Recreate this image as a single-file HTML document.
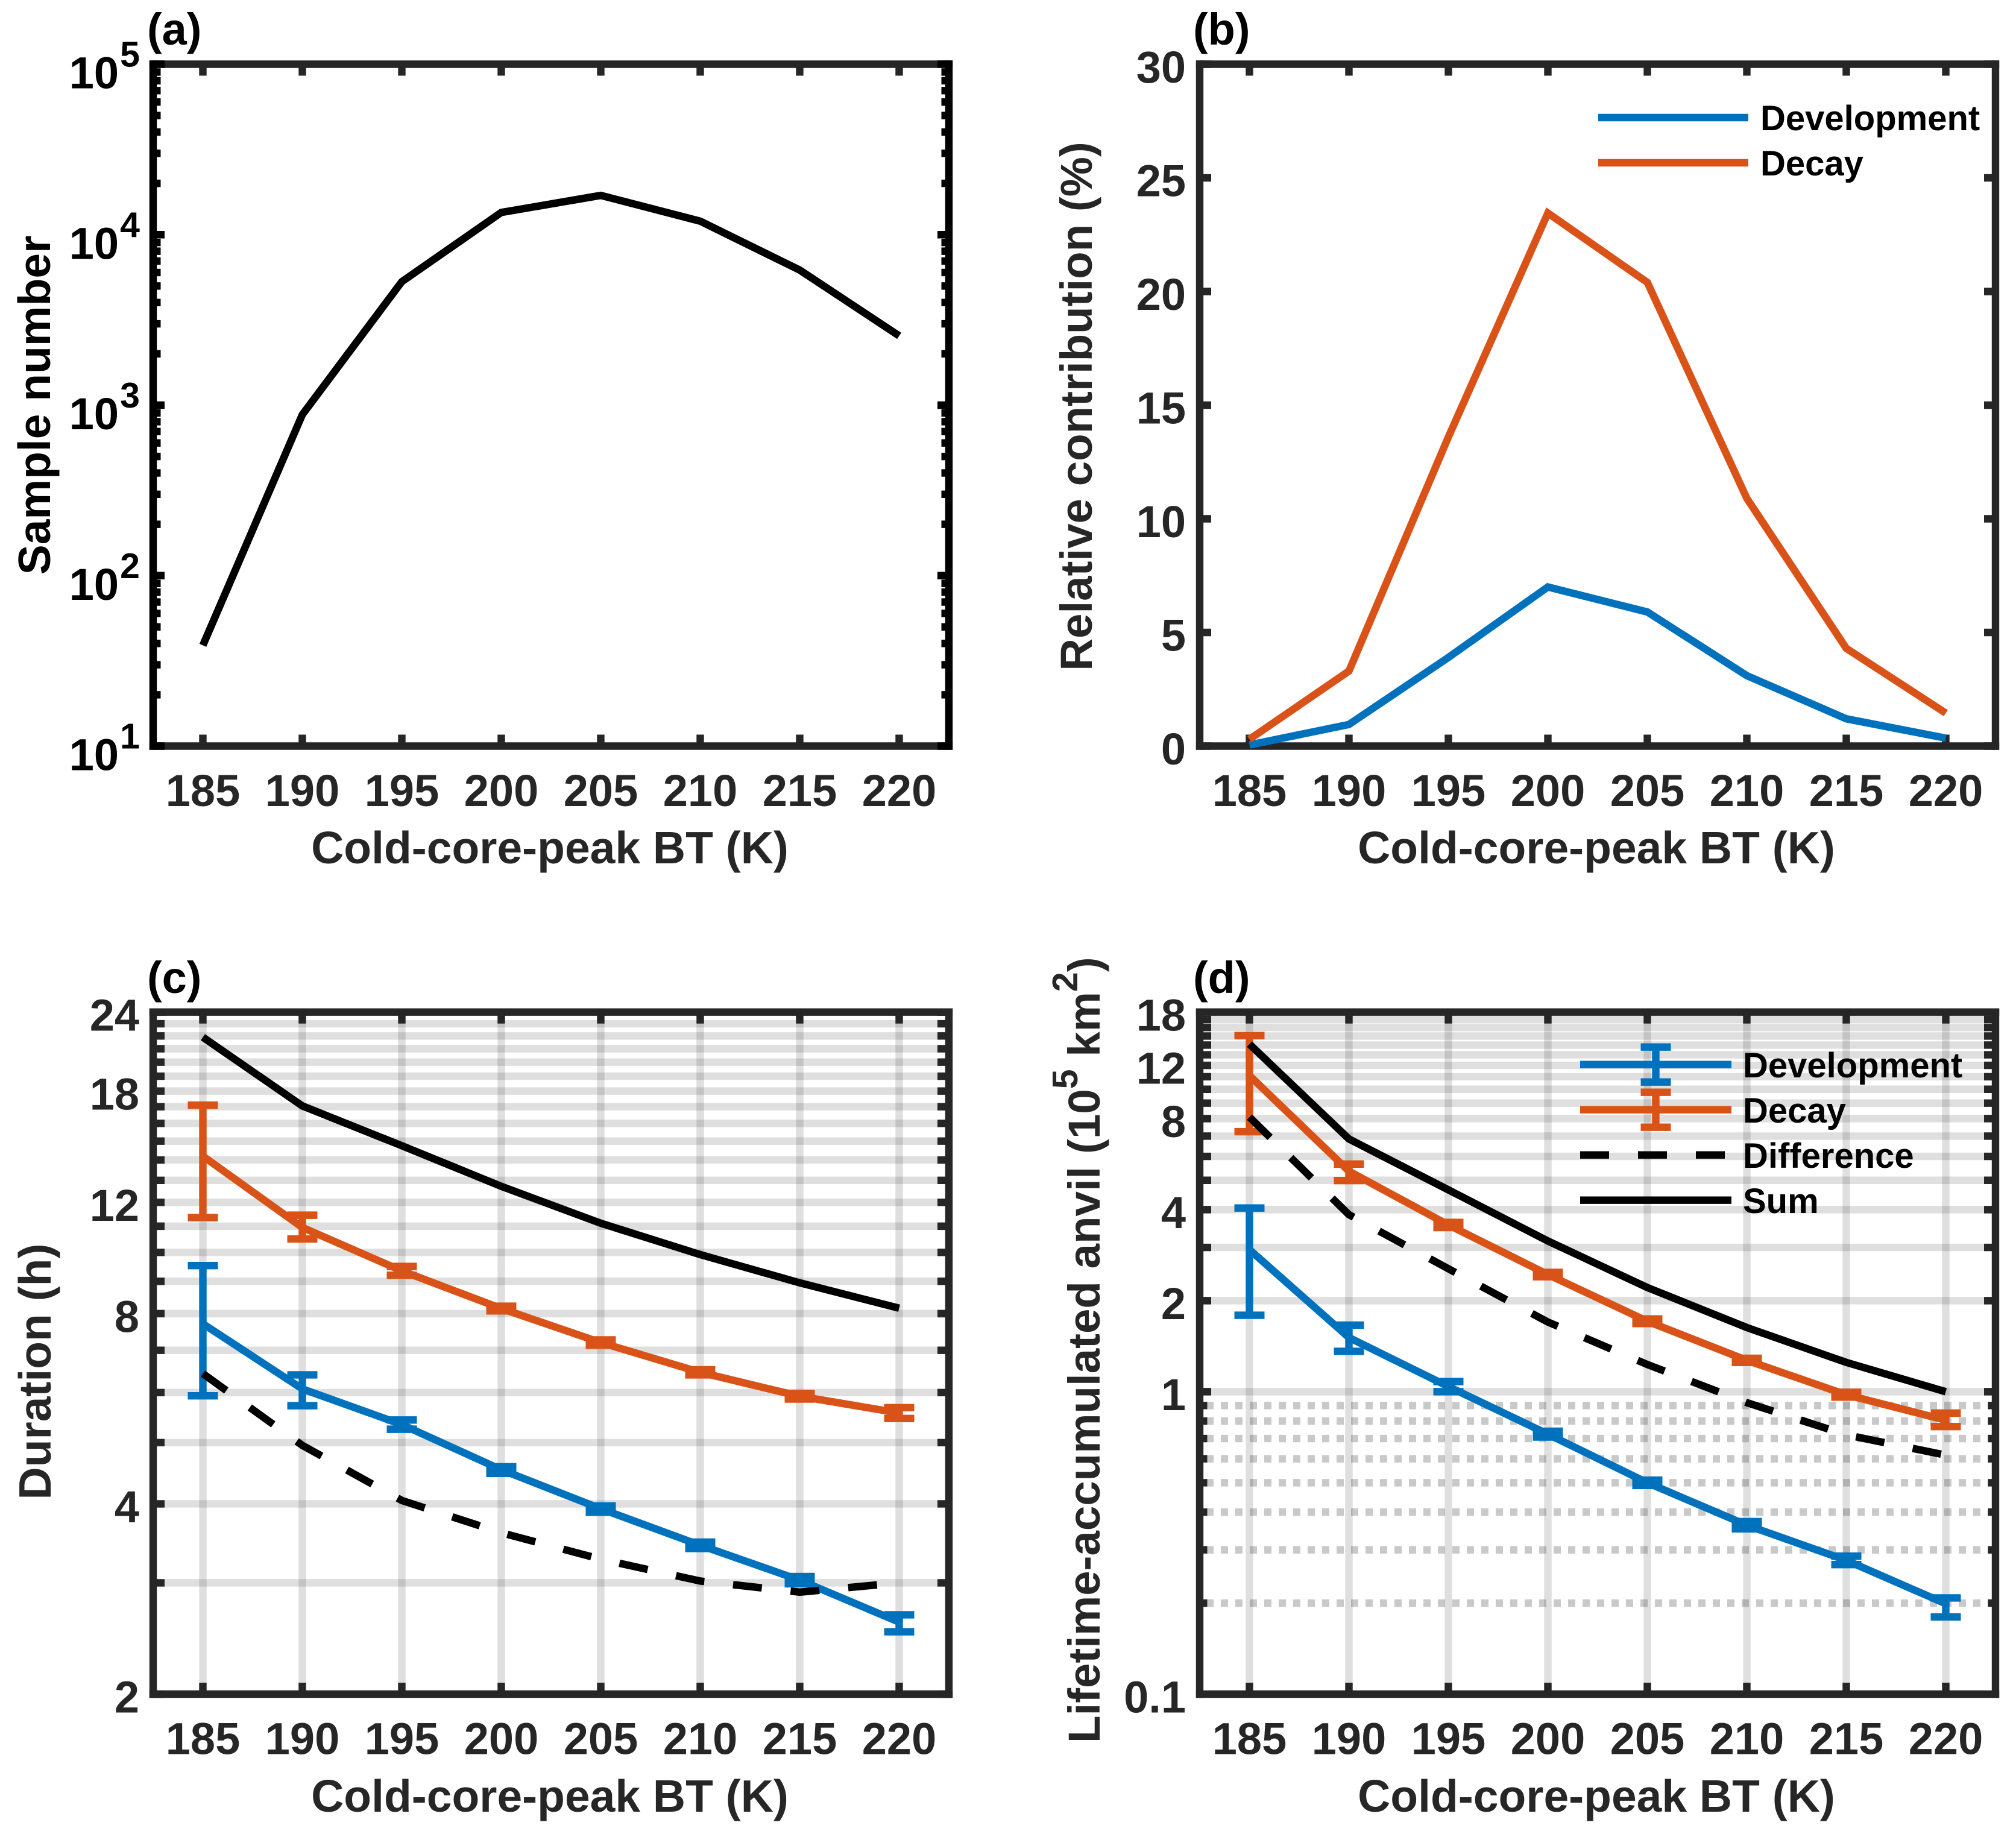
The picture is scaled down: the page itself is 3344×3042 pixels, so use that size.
<!DOCTYPE html>
<html lang="en">
<head>
<meta charset="utf-8">
<title>Cold-core-peak BT panels</title>
<style>
  html, body { margin: 0; padding: 0; background: #ffffff; }
  svg { display: block; }
  text { font-family: "Liberation Sans", Arial, sans-serif; font-weight: bold; font-size: 74px; fill: #262626; }
  .ttl { font-size: 75px; }
  .ttl-long { font-size: 74.5px; }
  .blk { fill: #000000; }
  .leg { font-size: 58px; fill: #000000; }
</style>
</head>
<body>
<svg id="figure" xmlns="http://www.w3.org/2000/svg" width="3344" height="3042" viewBox="0 0 3344 3042">
  <rect x="0" y="0" width="3344" height="3042" fill="#ffffff"/>

  <g id="panel-a"></g>
  <g id="panel-b"></g>
  <g id="panel-c"></g>
  <g id="panel-d"></g>

  <text class="blk" x="244" y="74">(a)</text>
  <text class="blk" x="1979" y="74">(b)</text>
  <text class="blk" x="244" y="1647">(c)</text>
  <text class="blk" x="1979" y="1647">(d)</text>

  <text class="ttl" x="912" y="1432" text-anchor="middle">Cold-core-peak BT (K)</text>
  <text class="ttl" x="2648" y="1432" text-anchor="middle">Cold-core-peak BT (K)</text>
  <text class="ttl" x="912" y="3005" text-anchor="middle">Cold-core-peak BT (K)</text>
  <text class="ttl" x="2648" y="3005" text-anchor="middle">Cold-core-peak BT (K)</text>

  <text class="blk ttl" text-anchor="middle" transform="translate(83 672) rotate(-90)">Sample number</text>
  <text class="ttl-long" text-anchor="middle" transform="translate(1811 674) rotate(-90)">Relative contribution (%)</text>
  <text class="ttl" text-anchor="middle" transform="translate(84 2275) rotate(-90)">Duration (h)</text>
  <text class="ttl-long" text-anchor="start" transform="translate(1824 2891) rotate(-90)">Lifetime-accumulated anvil (10<tspan font-size="59" dy="-37">5</tspan><tspan dy="37"> km</tspan><tspan font-size="59" dy="-37">2</tspan><tspan dy="37">)</tspan></text>

  <g>
    <line x1="2651" x2="2900" y1="195" y2="195" stroke="#0072BD" stroke-width="12.4"/>
    <line x1="2651" x2="2900" y1="270" y2="270" stroke="#D95319" stroke-width="12.4"/>
    <text class="leg" x="2920" y="216">Development</text>
    <text class="leg" x="2920" y="291">Decay</text>
  </g>

  <g>
    <g stroke="#0072BD" stroke-width="12.4">
      <line x1="2621" x2="2872" y1="1765.7" y2="1765.7"/>
      <line x1="2746.5" x2="2746.5" y1="1736.7" y2="1794.7"/>
      <line x1="2721.5" x2="2771.5" y1="1736.7" y2="1736.7"/>
      <line x1="2721.5" x2="2771.5" y1="1794.7" y2="1794.7"/>
    </g>
    <g stroke="#D95319" stroke-width="12.4">
      <line x1="2621" x2="2872" y1="1840.7" y2="1840.7"/>
      <line x1="2746.5" x2="2746.5" y1="1811.7" y2="1869.7"/>
      <line x1="2721.5" x2="2771.5" y1="1811.7" y2="1811.7"/>
      <line x1="2721.5" x2="2771.5" y1="1869.7" y2="1869.7"/>
    </g>
    <line x1="2621" x2="2872" y1="1915.7" y2="1915.7" stroke="#000000" stroke-width="12.4" stroke-dasharray="48 48"/>
    <line x1="2621" x2="2872" y1="1990.7" y2="1990.7" stroke="#000000" stroke-width="12.4"/>
    <text class="leg" x="2891" y="1787">Development</text>
    <text class="leg" x="2891" y="1862">Decay</text>
    <text class="leg" x="2891" y="1937">Difference</text>
    <text class="leg" x="2891" y="2012">Sum</text>
  </g>
</svg>

<script>
// ---- shared x axis ----
const btCategories = [185, 190, 195, 200, 205, 210, 215, 220];
const btTickLabels = ['185', '190', '195', '200', '205', '210', '215', '220'];

// ---- panel (a) ----
const sampleCounts = [39, 880, 5300, 13500, 17000, 12000, 6200, 2550];
const sampleExponents = [1, 2, 3, 4, 5];
const sampleMinorTicks = [20, 30, 40, 50, 60, 70, 80, 90, 200, 300, 400, 500, 600, 700, 800, 900, 2000, 3000, 4000, 5000, 6000, 7000, 8000, 9000, 20000, 30000, 40000, 50000, 60000, 70000, 80000, 90000];

// ---- panel (b) ----
const contributionTicks = [0, 5, 10, 15, 20, 25, 30];
const contributionDevelopment = [0.05, 0.95, 3.9, 7.0, 5.9, 3.1, 1.2, 0.35];
const contributionDecay = [0.3, 3.3, 13.6, 23.45, 20.4, 10.9, 4.3, 1.45];

// ---- panel (c) ----
const durationLabels = [2, 4, 8, 12, 18, 24];
const durationMajorTicks = [2, 3, 4, 5, 6, 7, 8, 9, 10, 11, 12, 13, 14, 15, 16, 17, 18, 19, 20, 21, 22, 23, 24];
const durationDevelopment = [7.71, 6.08, 5.34, 4.53, 3.93, 3.44, 3.03, 2.6];
const durationDevelopmentUpper = [9.53, 6.4, 5.43, 4.58, 3.97, 3.48, 3.07, 2.67];
const durationDevelopmentLower = [5.93, 5.72, 5.25, 4.47, 3.88, 3.4, 2.99, 2.51];
const durationDecay = [14.2, 10.95, 9.35, 8.15, 7.2, 6.46, 5.92, 5.57];
const durationDecayUpper = [17.1, 11.45, 9.5, 8.22, 7.27, 6.52, 5.98, 5.68];
const durationDecayLower = [11.35, 10.5, 9.2, 8.08, 7.13, 6.4, 5.86, 5.46];
const durationDifference = [6.43, 4.95, 4.05, 3.6, 3.27, 3.02, 2.9, 3.0];
const durationSum = [21.9, 17.05, 14.75, 12.72, 11.12, 9.92, 8.95, 8.16];

// ---- panel (d) ----
const anvilLabels = ['0.1', '1', '2', '4', '8', '12', '18'];
const anvilMajorTicks = [1, 2, 3, 4, 5, 6, 7, 8, 9, 10, 11, 12, 13, 14, 15, 16, 17, 18];
const anvilMinorTicks = [0.2, 0.3, 0.4, 0.5, 0.6, 0.7, 0.8, 0.9];
const anvilDevelopment = [2.95, 1.51, 1.04, 0.724, 0.5, 0.362, 0.277, 0.199];
const anvilDevelopmentUpper = [4.05, 1.66, 1.08, 0.74, 0.51, 0.372, 0.286, 0.208];
const anvilDevelopmentLower = [1.79, 1.36, 1.0, 0.708, 0.49, 0.352, 0.268, 0.18];
const anvilDecay = [11.1, 5.36, 3.56, 2.44, 1.71, 1.27, 0.977, 0.805];
const anvilDecayUpper = [15.05, 5.66, 3.63, 2.48, 1.74, 1.29, 0.995, 0.85];
const anvilDecayLower = [7.24, 4.99, 3.49, 2.4, 1.68, 1.25, 0.96, 0.767];
const anvilDifference = [8.09, 3.85, 2.55, 1.7, 1.23, 0.92, 0.72, 0.617];
const anvilSum = [14.1, 6.85, 4.65, 3.15, 2.21, 1.63, 1.25, 1.0];

const SVG_NS = 'http://www.w3.org/2000/svg';
const LINE_W = 12.4;
const BLUE = '#0072BD';
const ORANGE = '#D95319';
const INK = '#262626';
const BLACK = '#000000';

function make(parent, tag, attrs, name) {
  const el = document.createElementNS(SVG_NS, tag);
  for (const key in attrs) el.setAttribute(key, attrs[key]);
  
  
  parent.appendChild(el);
  return el;
}

function linearAxis(lo, hi, top, bottom) {
  return v => bottom - (v - lo) / (hi - lo) * (bottom - top);
}
function logAxis(lo, hi, top, bottom) {
  return v => bottom - (Math.log10(v) - Math.log10(lo)) / (Math.log10(hi) - Math.log10(lo)) * (bottom - top);
}
function btAxis(left, right) {
  return v => left + (v - 182.5) / 40 * (right - left);
}

function frameAndXAxis(g, box, xs) {
  // horizontal frame edges and x ticks
  const half = LINE_W / 2;
  make(g, 'line', { x1: box.left - half, x2: box.right + half, y1: box.top, y2: box.top, stroke: INK, 'stroke-width': LINE_W }, 'top-axis-line');
  make(g, 'line', { x1: box.left - half, x2: box.right + half, y1: box.bottom, y2: box.bottom, stroke: INK, 'stroke-width': LINE_W }, 'bottom-axis-line');
  btCategories.forEach((c, i) => {
    const x = xs(c);
    make(g, 'line', { x1: x, x2: x, y1: box.bottom, y2: box.bottom - 19, stroke: INK, 'stroke-width': LINE_W }, 'x-tick-bottom');
    make(g, 'line', { x1: x, x2: x, y1: box.top, y2: box.top + 19, stroke: INK, 'stroke-width': LINE_W }, 'x-tick-top');
    const label = make(g, 'text', { x: x, y: box.bottom + 99.5, 'text-anchor': 'middle' }, 'x-tick-label');
    label.textContent = btTickLabels[i];
  });
}

function yFrame(g, box, color) {
  const half = LINE_W / 2;
  make(g, 'line', { x1: box.left, x2: box.left, y1: box.top - half, y2: box.bottom + half, stroke: color, 'stroke-width': LINE_W }, 'left-axis-line');
  make(g, 'line', { x1: box.right, x2: box.right, y1: box.top - half, y2: box.bottom + half, stroke: color, 'stroke-width': LINE_W }, 'right-axis-line');
}

function yTicks(g, box, ys, values, length, color) {
  values.forEach(v => {
    const y = ys(v);
    make(g, 'line', { x1: box.left, x2: box.left + length, y1: y, y2: y, stroke: color, 'stroke-width': LINE_W }, 'y-tick-left');
    make(g, 'line', { x1: box.right, x2: box.right - length, y1: y, y2: y, stroke: color, 'stroke-width': LINE_W }, 'y-tick-right');
  });
}

function yLabels(g, box, ys, values, anchorX) {
  values.forEach(v => {
    const label = make(g, 'text', { x: anchorX, y: ys(Number(v)) + 30.7, 'text-anchor': 'end' }, 'y-tick-label');
    label.textContent = String(v);
  });
}

function verticalGrid(g, box, xs) {
  btCategories.forEach(c => {
    make(g, 'line', { x1: xs(c), x2: xs(c), y1: box.top, y2: box.bottom, stroke: INK, 'stroke-opacity': 0.15, 'stroke-width': LINE_W }, 'vertical-grid-line');
  });
}

function horizontalGrid(g, box, ys, values) {
  values.forEach(v => {
    make(g, 'line', { x1: box.left, x2: box.right, y1: ys(v), y2: ys(v), stroke: INK, 'stroke-opacity': 0.15, 'stroke-width': LINE_W }, 'horizontal-grid-line');
  });
}

function dottedGrid(g, box, ys, values) {
  values.forEach(v => {
    make(g, 'line', { x1: box.left, x2: box.right, y1: ys(v), y2: ys(v), stroke: INK, 'stroke-opacity': 0.25, 'stroke-width': LINE_W, 'stroke-dasharray': '12 12', 'stroke-dashoffset': 13 }, 'minor-dotted-grid-line');
  });
}

function series(g, xs, ys, values, color, name, dashed) {
  const pts = values.map((v, i) => xs(btCategories[i]).toFixed(2) + ',' + ys(v).toFixed(2)).join(' ');
  const attrs = { points: pts, fill: 'none', stroke: color, 'stroke-width': LINE_W, 'stroke-linejoin': 'miter', 'stroke-miterlimit': 8 };
  if (dashed) attrs['stroke-dasharray'] = '48 48';
  make(g, 'polyline', attrs, name);
}

function errorBars(g, xs, ys, upper, lower, color, name) {
  upper.forEach((u, i) => {
    const x = xs(btCategories[i]);
    const yu = ys(u);
    const yl = ys(lower[i]);
    make(g, 'line', { x1: x, x2: x, y1: yu, y2: yl, stroke: color, 'stroke-width': LINE_W }, name + '-stem');
    make(g, 'line', { x1: x - 25, x2: x + 25, y1: yu, y2: yu, stroke: color, 'stroke-width': LINE_W }, name + '-cap-upper');
    make(g, 'line', { x1: x - 25, x2: x + 25, y1: yl, y2: yl, stroke: color, 'stroke-width': LINE_W }, name + '-cap-lower');
  });
}

// ---- panel (a) draw ----
(function () {
  const g = document.getElementById('panel-a');
  const box = { left: 254, right: 1574, top: 106.5, bottom: 1237.5 };
  const xs = btAxis(box.left, box.right);
  const ys = logAxis(10, 100000, box.top, box.bottom);
  frameAndXAxis(g, box, xs);
  yFrame(g, box, BLACK);
  yTicks(g, box, ys, sampleMinorTicks, 12.5, BLACK);
  const majors = sampleExponents.map(e => Math.pow(10, e));
  yTicks(g, box, ys, majors, 19, BLACK);
  sampleExponents.forEach(e => {
    const y = ys(Math.pow(10, e));
    const base = make(g, 'text', { x: 197, y: y + 40, 'text-anchor': 'end', class: 'blk' }, 'y-tick-label-base');
    base.textContent = '10';
    const sup = make(g, 'text', { x: 232, y: y + 4, 'text-anchor': 'end', class: 'blk', 'font-size': 59, style: 'font-size:59px' }, 'y-tick-label-exponent');
    sup.textContent = String(e);
  });
  series(g, xs, ys, sampleCounts, BLACK, 'sample-number-line');
})();

// ---- panel (b) draw ----
(function () {
  const g = document.getElementById('panel-b');
  const box = { left: 1990, right: 3310, top: 106.5, bottom: 1237.5 };
  const xs = btAxis(box.left, box.right);
  const ys = linearAxis(0, 30, box.top, box.bottom);
  frameAndXAxis(g, box, xs);
  yFrame(g, box, INK);
  yTicks(g, box, ys, contributionTicks, 19, INK);
  yLabels(g, box, ys, contributionTicks, 1967);
  series(g, xs, ys, contributionDevelopment, BLUE, 'development-line');
  series(g, xs, ys, contributionDecay, ORANGE, 'decay-line');
})();

// ---- panel (c) draw ----
(function () {
  const g = document.getElementById('panel-c');
  const box = { left: 254, right: 1574, top: 1678.7, bottom: 2810 };
  const xs = btAxis(box.left, box.right);
  const ys = logAxis(2, 24, box.top, box.bottom);
  horizontalGrid(g, box, ys, durationMajorTicks);
  verticalGrid(g, box, xs);
  frameAndXAxis(g, box, xs);
  yFrame(g, box, INK);
  yTicks(g, box, ys, durationMajorTicks, 19, INK);
  yLabels(g, box, ys, durationLabels, 231);
  series(g, xs, ys, durationDevelopment, BLUE, 'development-line');
  errorBars(g, xs, ys, durationDevelopmentUpper, durationDevelopmentLower, BLUE, 'development-error-bar');
  series(g, xs, ys, durationDecay, ORANGE, 'decay-line');
  errorBars(g, xs, ys, durationDecayUpper, durationDecayLower, ORANGE, 'decay-error-bar');
  series(g, xs, ys, durationDifference, BLACK, 'difference-line', true);
  series(g, xs, ys, durationSum, BLACK, 'sum-line');
})();

// ---- panel (d) draw ----
(function () {
  const g = document.getElementById('panel-d');
  const box = { left: 1990, right: 3310, top: 1678.7, bottom: 2810 };
  const xs = btAxis(box.left, box.right);
  const ys = logAxis(0.1, 18, box.top, box.bottom);
  horizontalGrid(g, box, ys, anvilMajorTicks);
  dottedGrid(g, box, ys, anvilMinorTicks);
  verticalGrid(g, box, xs);
  frameAndXAxis(g, box, xs);
  yFrame(g, box, INK);
  yTicks(g, box, ys, anvilMinorTicks, 12.5, INK);
  yTicks(g, box, ys, anvilMajorTicks, 19, INK);
  yLabels(g, box, ys, anvilLabels, 1967);
  series(g, xs, ys, anvilDevelopment, BLUE, 'development-line');
  errorBars(g, xs, ys, anvilDevelopmentUpper, anvilDevelopmentLower, BLUE, 'development-error-bar');
  series(g, xs, ys, anvilDecay, ORANGE, 'decay-line');
  errorBars(g, xs, ys, anvilDecayUpper, anvilDecayLower, ORANGE, 'decay-error-bar');
  series(g, xs, ys, anvilDifference, BLACK, 'difference-line', true);
  series(g, xs, ys, anvilSum, BLACK, 'sum-line');
})();
</script>
</body>
</html>
